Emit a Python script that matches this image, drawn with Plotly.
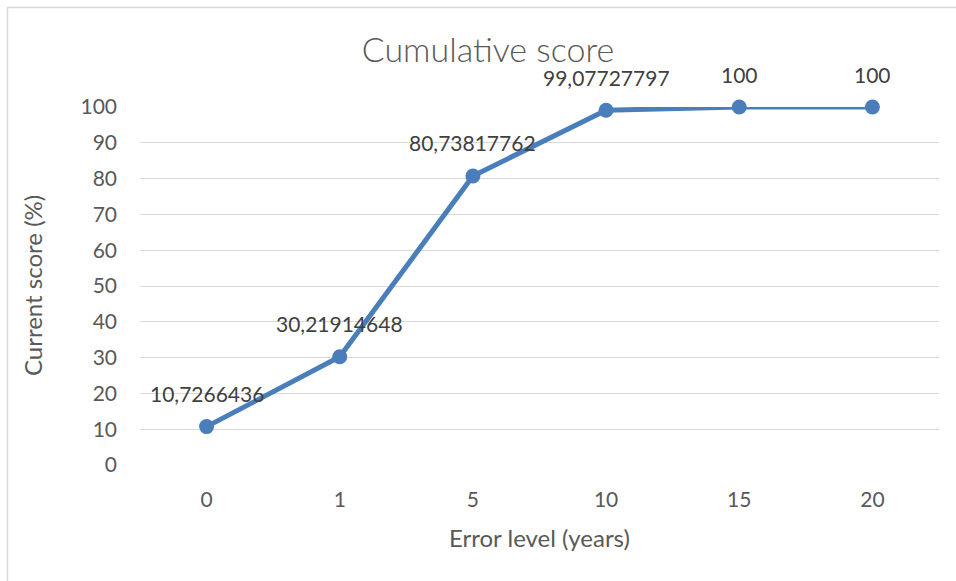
import plotly.graph_objects as go

categories = ["0", "1", "5", "10", "15", "20"]
scores = [10.7266436, 30.21914648, 80.73817762, 99.07727797, 100, 100]
y_ticks = [0, 10, 20, 30, 40, 50, 60, 70, 80, 90, 100]

W, H = 956, 581
L, R, T, B = 140, 17, 107, 116
pw, ph = W - L - R, H - T - B

FONT = "Lato"
LINE = "#4a7ebb"

fig = go.Figure()
fig.add_trace(go.Scatter(
    x=categories, y=scores, mode="lines+markers",
    line=dict(color=LINE, width=5),
    marker=dict(color=LINE, size=15),
    cliponaxis=False, showlegend=False, hoverinfo="skip",
))

annotations = []
for i, v in enumerate(scores):
    annotations.append(dict(
        x=i, y=v, xref="x", yref="y", text=str(v).replace(".", ","),
        showarrow=False, yshift=33, xanchor="center", yanchor="middle",
        font=dict(family=FONT, size=21, color="#404040"),
    ))
annotations.append(dict(
    x=(32 - L) / pw, y=0.5, xref="paper", yref="paper", text="Current score (%)",
    textangle=-90, showarrow=False, xanchor="center", yanchor="middle",
    font=dict(family=FONT, size=24, color="#595959"),
))
annotations.append(dict(
    x=(539 - L) / pw, y=(T + ph - 537) / ph, xref="paper", yref="paper",
    text="Error level (years)",
    showarrow=False, xanchor="center", yanchor="middle",
    font=dict(family=FONT, size=24, color="#595959"),
))

fig.update_layout(
    width=W, height=H,
    margin=dict(l=L, r=R, t=T, b=B, autoexpand=False),
    paper_bgcolor="white", plot_bgcolor="white",
    title=dict(text="Cumulative score", x=488 / W, xanchor="center",
               y=1 - 50 / H, yanchor="middle", yref="container",
               font=dict(family="Lato Light, Lato", size=34, color="#595959")),
    xaxis=dict(type="category", range=[-0.5, 5.5], showgrid=False,
               showline=False, zeroline=False, ticks="",
               ticklabelstandoff=20,
               tickfont=dict(family=FONT, size=21, color="#595959")),
    yaxis=dict(range=[0, 100], tickvals=y_ticks, showgrid=True,
               gridcolor="#d9d9d9", gridwidth=1, zeroline=False,
               showline=False, ticks="", ticklabelstandoff=22,
               tickfont=dict(family=FONT, size=21, color="#595959")),
    annotations=annotations,
    shapes=[dict(type="rect", xref="paper", yref="paper",
                 x0=(7.5 - L) / pw, x1=2.0, y0=-2.0, y1=(T + ph - 7.5) / ph,
                 line=dict(color="#d9d9d9", width=1.5), layer="below")],
)

fig.write_html("out.html", config={"displayModeBar": False},
               post_script="document.body.style.margin='0';document.body.style.overflow='hidden';")
